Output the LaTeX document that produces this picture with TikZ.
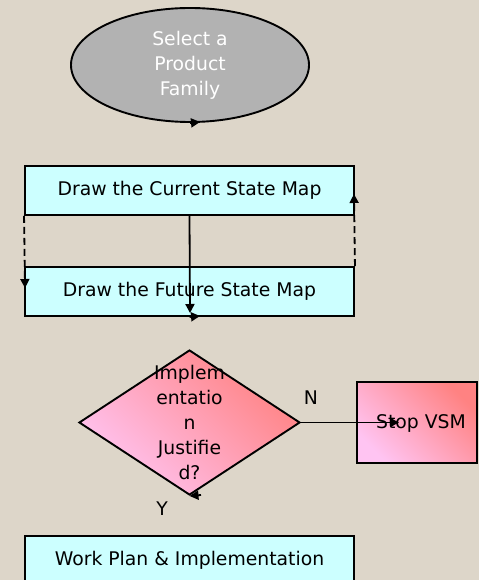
\documentclass[tikz,border=0pt]{standalone}
\usepackage{fontspec}
\setmainfont{DejaVu Sans}
\usetikzlibrary{shapes.geometric,arrows.meta}
\definecolor{bg}{HTML}{DDD6C9}
\definecolor{boxfill}{HTML}{CCFFFF}
\definecolor{ovalfill}{HTML}{B2B2B2}
\definecolor{pinklight}{HTML}{FFC4F2}
\definecolor{salmon}{HTML}{FF8282}
\begin{document}
\begin{tikzpicture}[x=1pt,y=-1pt,
  font=\fontsize{18.8}{25}\selectfont,
  stepbox/.style={draw=black, line width=1.9pt, fill=boxfill, minimum width=329pt, minimum height=49pt, inner sep=0pt},
  ovalbox/.style={ellipse, draw=black, line width=1.9pt, fill=ovalfill, minimum width=238pt, minimum height=114pt, inner sep=0pt, text=white, align=center},
  pinkfill/.style={top color=salmon, bottom color=pinklight, shading angle=-45},
  decbox/.style={diamond, draw=black, line width=1.9pt, pinkfill, minimum width=221pt, minimum height=145pt, inner sep=0pt},
  stopbox/.style={draw=black, line width=1.9pt, pinkfill, minimum width=120pt, minimum height=81pt, inner sep=0pt},
  conn/.style={line width=1.8pt, -{Triangle[length=9pt,width=9pt]}},
  dashconn/.style={conn, dash pattern=on 7pt off 4pt},
  lbl/.style={inner sep=0pt}
]
\clip (0,0) rectangle (479,580);
\useasboundingbox (0,0) rectangle (479,580);
\fill[bg] (0,0) rectangle (479,580);

% nodes
\node[ovalbox] (sel) at (190,65) {Select a\\Product\\Family};
\node[stepbox] (cur) at (189.5,190.5) {Draw the Current State Map};
\node[stepbox] (fut) at (189.5,291.5) {Draw the Future State Map};
\node[decbox] (dec) at (189.5,422.5) {};
\node[align=center, inner sep=0pt] (dectext) at (189.5,422) {Implem\\entatio\\n\\Justifie\\d?};
\node[stopbox] (stop) at (417,422.5) {};
\node[lbl] (stoptext) at (421,423) {Stop VSM};
\node[stepbox] (work) at (189.5,560.5) {Work Plan \& Implementation};
\node[lbl] (nlab) at (311,398) {N};
\node[lbl] (ylab) at (162,509) {Y};

% free ends
\coordinate (seltip) at (200,122);
\coordinate (downtip) at (190,313);
\coordinate (futtip) at (200,316);
\coordinate (lefttip) at (25,288);
\coordinate (righttip) at (354,194);
\coordinate (ntip) at (399,422.5);
\coordinate (ybase) at (201,495);

% connectors
\draw[conn] (sel.south) -- (seltip);
\draw[conn] (cur.south) -- (downtip);
\draw[conn] (fut.south) -- (futtip);
\draw[dashconn] (cur.south west) -- (lefttip);
\draw[dashconn] (fut.north east) -- (righttip);
\draw[conn] (dec.east) -- (ntip);
\draw[conn] (ybase) -- (dec.south);
\end{tikzpicture}
\end{document}
